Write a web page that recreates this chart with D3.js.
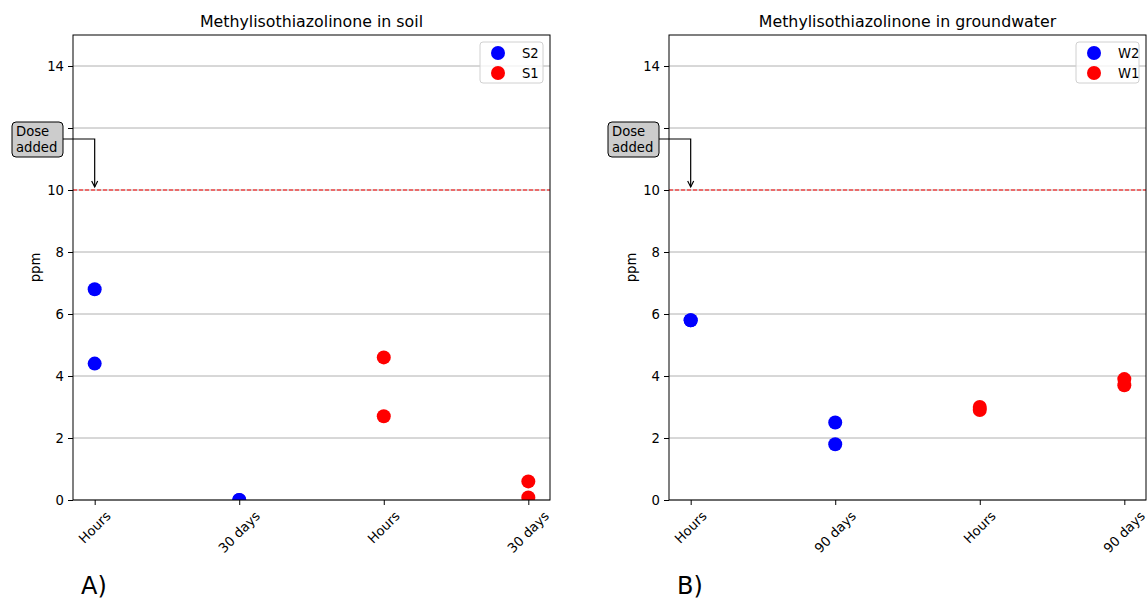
<!DOCTYPE html>
<html><head><meta charset="utf-8">
<script src="https://cdn.jsdelivr.net/npm/d3@7"></script>
<style>
body{margin:0;background:#fff;}
svg text{font-family:"DejaVu Sans",sans-serif;fill:#000;}
</style></head>
<body><svg id="chart" width="1147" height="602"></svg>
<script>
// ---- data ----
const soilCategories = ["Hours", "30 days", "Hours", "30 days"];
const waterCategories = ["Hours", "90 days", "Hours", "90 days"];
const yTicks = [0, 2, 4, 6, 8, 10, 12, 14];
const doseLevel = 10;
// points: [category index, ppm]
const S2 = [[0, 6.8], [0, 4.4], [1, 0.0], [1, 0.0]];
const S1 = [[2, 4.6], [2, 2.7], [3, 0.6], [3, 0.08]];
const W2 = [[0, 5.8], [0, 5.8], [1, 2.5], [1, 1.8]];
const W1 = [[2, 3.0], [2, 2.9], [3, 3.9], [3, 3.7]];

const FS = 13.2;
const svg = d3.select("#chart");
let clipId = 0;

function panel(opts) {
  const {left, right, top, bottom, title, cats, series, letter} = opts;
  const g = svg.append("g");
  const x = d3.scaleLinear().domain([-0.15, 3.15]).range([left, right]);
  const y = d3.scaleLinear().domain([0, 15]).range([bottom, top]);

  // grid
  g.append("g").selectAll("line").data(yTicks).join("line")
    .attr("x1", left).attr("x2", right)
    .attr("y1", d => y(d)).attr("y2", d => y(d))
    .attr("stroke", "#b0b0b0").attr("stroke-width", 1);

  // dose line
  g.append("line").attr("x1", left).attr("x2", right)
    .attr("y1", y(doseLevel)).attr("y2", y(doseLevel))
    .attr("stroke", "red").attr("stroke-width", 1).attr("stroke-dasharray", "4,2");

  // clip
  const cid = "clip" + (clipId++);
  svg.append("defs").append("clipPath").attr("id", cid)
    .append("rect").attr("x", left).attr("y", top).attr("width", right - left).attr("height", bottom - top);

  const pts = g.append("g").attr("clip-path", `url(#${cid})`);
  series.forEach(s => {
    pts.selectAll(null).data(s.data).join("circle")
      .attr("cx", d => x(d[0])).attr("cy", d => y(d[1]))
      .attr("r", 7).attr("fill", s.color);
  });

  // axes
  const yAxis = d3.axisLeft(y).tickValues(yTicks).tickSize(5).tickPadding(4);
  const ya = g.append("g").attr("transform", `translate(${left},0)`).call(yAxis);
  ya.select(".domain").remove();
  ya.selectAll("text").style("font-size", FS + "px").style("font-family", "DejaVu Sans");
  ya.selectAll("line").attr("stroke", "#000");

  const xAxis = d3.axisBottom(x).tickValues([0, 1, 2, 3]).tickSize(5).tickFormat(() => "");
  const xa = g.append("g").attr("transform", `translate(0,${bottom})`).call(xAxis);
  xa.select(".domain").remove();
  xa.selectAll("line").attr("stroke", "#000");

  // rotated labels
  cats.forEach((c, i) => {
    const t = g.append("text").text(c).style("font-size", FS + "px")
      .attr("text-anchor", "middle").attr("dominant-baseline", "central");
    const w = t.node().getComputedTextLength();
    const h = FS;
    const half = (w + h) * Math.SQRT1_2 / 2;
    t.attr("transform", `translate(${x(i)},${bottom + 9 + half}) rotate(-45)`);
  });

  // frame
  g.append("rect").attr("x", left).attr("y", top).attr("width", right - left).attr("height", bottom - top)
    .attr("fill", "none").attr("stroke", "#000").attr("stroke-width", 1);

  // title
  g.append("text").text(title).attr("x", (left + right) / 2).attr("y", top - 8)
    .attr("text-anchor", "middle").style("font-size", "15.8px");

  // y label
  g.append("text").text("ppm")
    .attr("transform", `translate(${left - 33},${(top + bottom) / 2}) rotate(-90)`)
    .attr("text-anchor", "middle").style("font-size", FS + "px");

  // legend
  const lw = 63, lh = 41;
  const lx = right - 7 - lw, ly = top + 7;
  const lg = g.append("g");
  lg.append("rect").attr("x", lx).attr("y", ly).attr("width", lw).attr("height", lh)
    .attr("rx", 3).attr("fill", "#fff").attr("fill-opacity", 0.8).attr("stroke", "#d0d0d0");
  series.forEach((s, i) => {
    lg.append("circle").attr("cx", lx + 18).attr("cy", ly + 11 + i * 20).attr("r", 7).attr("fill", s.color);
    lg.append("text").text(s.name).attr("x", lx + 42).attr("y", ly + 11 + i * 20)
      .attr("dominant-baseline", "central").style("font-size", FS + "px");
  });

  // annotation
  const bx = left - 61, by = top + 87, bw = 51, bh = 35;
  const tipX = x(0), tipY = y(doseLevel) - 3;
  const lineY = by + 17;
  g.append("path").attr("d", `M${bx + bw},${lineY} H${tipX} V${tipY}`)
    .attr("fill", "none").attr("stroke", "#000").attr("stroke-width", 1.2);
  g.append("path").attr("d", `M${tipX - 3},${tipY - 6} L${tipX},${tipY} L${tipX + 3},${tipY - 6}`)
    .attr("fill", "none").attr("stroke", "#000").attr("stroke-width", 1.2);
  g.append("rect").attr("x", bx).attr("y", by).attr("width", bw).attr("height", bh)
    .attr("rx", 4).attr("fill", "#cccccc").attr("stroke", "#000").attr("stroke-width", 1);
  g.append("text").attr("x", bx + 4).attr("y", by + 14).text("Dose").style("font-size", FS + "px");
  g.append("text").attr("x", bx + 4).attr("y", by + 30).text("added").style("font-size", FS + "px");

  // letter
  g.append("text").text(letter).attr("x", left + 8).attr("y", 594)
    .style("font-size", "24px").style("font-family", "DejaVu Sans");
}

panel({left: 73, right: 550, top: 35, bottom: 500, title: "Methylisothiazolinone in soil",
  cats: soilCategories, letter: "A)",
  series: [{name: "S2", color: "blue", data: S2}, {name: "S1", color: "red", data: S1}]});
panel({left: 669, right: 1146, top: 35, bottom: 500, title: "Methylisothiazolinone in groundwater",
  cats: waterCategories, letter: "B)",
  series: [{name: "W2", color: "blue", data: W2}, {name: "W1", color: "red", data: W1}]});
</script></body></html>
